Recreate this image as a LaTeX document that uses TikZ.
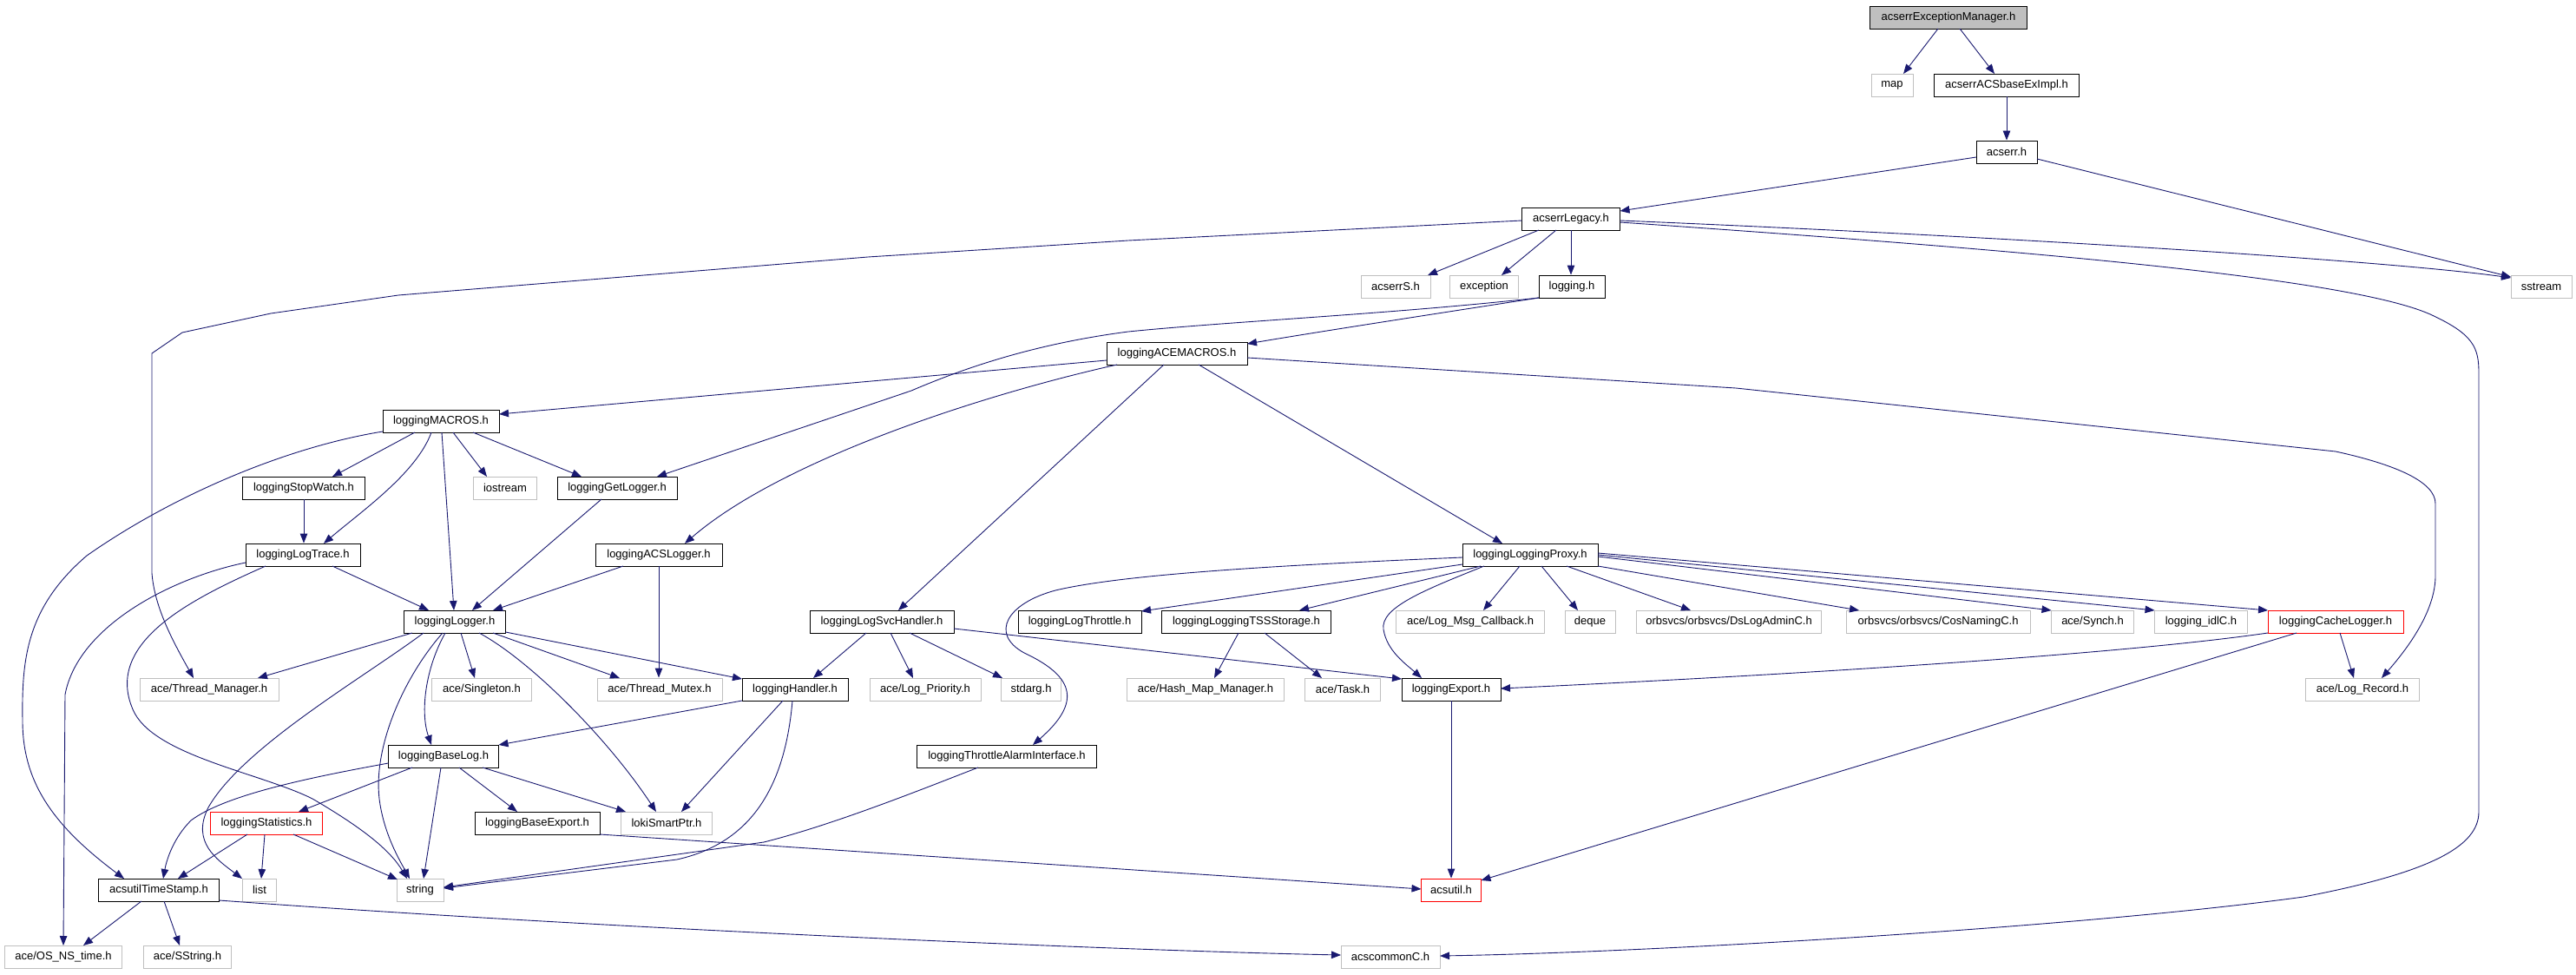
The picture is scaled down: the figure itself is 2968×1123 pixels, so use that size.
\documentclass[tikz,border=0pt]{standalone}
\usepackage{fontspec}
\setmainfont{Liberation Sans}
\usetikzlibrary{arrows.meta,calc}
\definecolor{edgecol}{RGB}{25,25,112}
\definecolor{greyl}{RGB}{191,191,191}
\begin{document}
\begin{tikzpicture}[x=1pt,y=-1pt,
  box/.style={draw=black,line width=0.9pt,minimum height=26pt,inner sep=0pt,font=\fontsize{13}{15}\selectfont,fill=white},
  doc/.style={box},
  ext/.style={box,draw=greyl},
  trunc/.style={box,draw=red},
  rootbox/.style={box,fill=greyl},
  edge/.style={draw=edgecol,line width=0.9pt,-{Triangle[length=11pt,width=8.5pt]}},
]
\fill[white] (0,0) rectangle (2968,1123);
\useasboundingbox (0,0) rectangle (2968,1123);

\node[rootbox,minimum width=181pt] (root) at (2245,20) {acserrExceptionManager.h};
\node[ext,minimum width=48pt] (map) at (2180,98) {map};
\node[doc,minimum width=167pt] (baseEx) at (2312,98) {acserrACSbaseExImpl.h};
\node[doc,minimum width=70pt] (acserr) at (2312,175) {acserr.h};
\node[doc,minimum width=113pt] (legacy) at (1810,252) {acserrLegacy.h};
\node[ext,minimum width=80pt] (acserrS) at (1608,330) {acserrS.h};
\node[ext,minimum width=79pt] (exception) at (1710,330) {exception};
\node[doc,minimum width=76pt] (logging) at (1811,330) {logging.h};
\node[ext,minimum width=70pt] (sstream) at (2928,330) {sstream};
\node[doc,minimum width=162pt] (acemacros) at (1356,407) {loggingACEMACROS.h};
\node[doc,minimum width=134pt] (macros) at (508,485) {loggingMACROS.h};
\node[doc,minimum width=141pt] (stopwatch) at (350,562) {loggingStopWatch.h};
\node[ext,minimum width=73pt] (iostream) at (582,562) {iostream};
\node[doc,minimum width=138pt] (getlogger) at (711,562) {loggingGetLogger.h};
\node[doc,minimum width=132pt] (logtrace) at (349,639) {loggingLogTrace.h};
\node[doc,minimum width=146pt] (acslogger) at (759,639) {loggingACSLogger.h};
\node[doc,minimum width=156pt] (proxy) at (1763,639) {loggingLoggingProxy.h};
\node[doc,minimum width=117pt] (logger) at (524,716) {loggingLogger.h};
\node[doc,minimum width=166pt] (svchandler) at (1016,716) {loggingLogSvcHandler.h};
\node[doc,minimum width=142pt] (throttle) at (1244,716) {loggingLogThrottle.h};
\node[doc,minimum width=195pt] (tss) at (1436,716) {loggingLoggingTSSStorage.h};
\node[ext,minimum width=171pt] (logmsgcb) at (1694,716) {ace/Log\_Msg\_Callback.h};
\node[ext,minimum width=58pt] (deque) at (1832,716) {deque};
\node[ext,minimum width=213pt] (dslog) at (1992,716) {orbsvcs/orbsvcs/DsLogAdminC.h};
\node[ext,minimum width=212pt] (cosnaming) at (2233,716) {orbsvcs/orbsvcs/CosNamingC.h};
\node[ext,minimum width=95pt] (synch) at (2411,716) {ace/Synch.h};
\node[ext,minimum width=107pt] (idlc) at (2536,716) {logging\_idlC.h};
\node[trunc,minimum width=156pt] (cache) at (2691,716) {loggingCacheLogger.h};
\node[ext,minimum width=160pt] (threadmgr) at (241,794) {ace/Thread\_Manager.h};
\node[ext,minimum width=115pt] (singleton) at (555,794) {ace/Singleton.h};
\node[ext,minimum width=144pt] (mutex) at (760,794) {ace/Thread\_Mutex.h};
\node[doc,minimum width=122pt] (handler) at (916,794) {loggingHandler.h};
\node[ext,minimum width=128pt] (logprio) at (1066,794) {ace/Log\_Priority.h};
\node[ext,minimum width=69pt] (stdarg) at (1188,794) {stdarg.h};
\node[ext,minimum width=181pt] (hashmap) at (1389,794) {ace/Hash\_Map\_Manager.h};
\node[ext,minimum width=87pt] (task) at (1547,794) {ace/Task.h};
\node[doc,minimum width=114pt] (export) at (1672,794) {loggingExport.h};
\node[ext,minimum width=131pt] (logrecord) at (2722,794) {ace/Log\_Record.h};
\node[doc,minimum width=127pt] (baselog) at (511,871) {loggingBaseLog.h};
\node[doc,minimum width=207pt] (throttlealarm) at (1160,871) {loggingThrottleAlarmInterface.h};
\node[trunc,minimum width=129pt] (statistics) at (307,948) {loggingStatistics.h};
\node[doc,minimum width=144pt] (baseexport) at (619,948) {loggingBaseExport.h};
\node[ext,minimum width=105pt] (loki) at (768,948) {lokiSmartPtr.h};
\node[doc,minimum width=139pt] (timestamp) at (183,1025) {acsutilTimeStamp.h};
\node[ext,minimum width=39pt] (list) at (299,1025) {list};
\node[ext,minimum width=54pt] (string) at (484,1025) {string};
\node[trunc,minimum width=69pt] (acsutil) at (1672,1025) {acsutil.h};
\node[ext,minimum width=135pt] (osnstime) at (73,1102) {ace/OS\_NS\_time.h};
\node[ext,minimum width=101pt] (sstring) at (216,1102) {ace/SString.h};
\node[ext,minimum width=114pt] (acscommonc) at (1602,1102) {acscommonC.h};

% top
\draw[edge] ($(root)+(-12,13)$) -- ($(map)+(13,-13)$);
\draw[edge] ($(root)+(13,13)$) -- ($(baseEx)+(-14,-13)$);
\draw[edge] (baseEx.south) -- (acserr.north);
\draw[edge] ($(acserr)+(-35,6)$) -- ($(legacy)+(56.5,-9)$);
\draw[edge] ($(acserr)+(35,8)$) -- ($(sstream)+(-35,-11)$);
\draw[edge] ($(legacy)+(56.5,2)$) .. controls (2300,272) and (2750,300) .. ($(sstream)+(-35,-10)$);
\draw[edge] ($(legacy)+(56.5,4)$) .. controls (2300,286) and (2700,318) .. (2800,362) .. controls (2850,385) and (2856,400) .. (2856,430) -- (2856,935) .. controls (2856,975) and (2800,1005) .. (2654,1033) .. controls (2400,1068) and (1900,1097) .. ($(acscommonc)+(57,-1)$);
\draw[edge] ($(legacy)+(-56.5,2)$) -- (1300,277) -- (1000,296) -- (459,340) -- (312,361) -- (210,383) -- (175,407) -- (175,660) .. controls (178,700) and (200,740) .. ($(threadmgr)+(-18,-13)$);
\draw[edge] ($(legacy)+(-37,13)$) -- ($(acserrS)+(37,-13)$);
\draw[edge] ($(legacy)+(-17,13)$) -- ($(exception)+(20,-13)$);
\draw[edge] (legacy.south) -- (legacy.south |- logging.north);

% logging.h
\draw[edge] ($(logging)+(-38,13)$) .. controls (1650,362) and (1520,382) .. ($(acemacros)+(81,-11)$);
\draw[edge] ($(logging)+(-38,13)$) .. controls (1600,362) and (1420,370) .. (1300,382) .. controls (1200,395) and (1120,420) .. (1050,450) -- ($(getlogger)+(46,-13)$);

% loggingACEMACROS.h
\draw[edge] ($(acemacros)+(-81,8)$) -- ($(macros)+(67,-8)$);
\draw[edge] ($(acemacros)+(-69,13)$) .. controls (1130,455) and (900,530) .. ($(acslogger)+(30,-13)$);
\draw[edge] ($(acemacros)+(-15,13)$) -- ($(svchandler)+(19,-13)$);
\draw[edge] ($(acemacros)+(25,13)$) -- ($(proxy)+(-32,-13)$);
\draw[edge] ($(acemacros)+(81,5)$) -- (2000,447) -- (2691,520) .. controls (2760,535) and (2806,555) .. (2806,580) -- (2806,663) .. controls (2806,700) and (2780,740) .. ($(logrecord)+(22,-13)$);

% loggingMACROS.h
\draw[edge] ($(macros)+(-30,13)$) -- ($(stopwatch)+(33,-13)$);
\draw[edge] ($(macros)+(-11,13)$) .. controls (480,545) and (415,590) .. ($(logtrace)+(24,-13)$);
\draw[edge] ($(macros)+(14,13)$) -- ($(iostream)+(-21,-13)$);
\draw[edge] ($(macros)+(37,13)$) -- ($(getlogger)+(-41,-13)$);
\draw[edge] ($(macros)+(1,13)$) -- ($(logger)+(-1,-13)$);
\draw[edge] ($(macros)+(-67,12)$) .. controls (330,515) and (200,570) .. (100,640) .. controls (30,700) and (25,760) .. (26,830) .. controls (26,900) and (60,950) .. ($(timestamp)+(-40,-13)$);

% stopwatch, logtrace
\draw[edge] (stopwatch.south) -- (stopwatch.south |- logtrace.north);
\draw[edge] ($(logtrace)+(34,13)$) -- ($(logger)+(-30,-13)$);
\draw[edge] ($(logtrace)+(-66,9)$) .. controls (200,665) and (90,720) .. (75,800) -- ($(osnstime)+(0,-13)$);
\draw[edge] ($(logtrace)+(-43,13)$) .. controls (220,690) and (120,740) .. (153,817) .. controls (175,870) and (300,890) .. (360,920) .. controls (420,955) and (450,980) .. ($(string)+(-15,-13)$);

% getlogger, acslogger
\draw[edge] ($(getlogger)+(-18,13)$) -- ($(logger)+(20,-13)$);
\draw[edge] ($(acslogger)+(-41,13)$) -- ($(logger)+(44,-13)$);
\draw[edge] (acslogger.south) -- (acslogger.south |- mutex.north);

% loggingLogger.h
\draw[edge] ($(logger)+(-49,13)$) -- ($(threadmgr)+(56,-13)$);
\draw[edge] ($(logger)+(-36,13)$) .. controls (420,780) and (280,860) .. (240,930) .. controls (220,970) and (250,990) .. ($(list)+(-20,-13)$);
\draw[edge] ($(logger)+(-14,13)$) .. controls (465,780) and (430,860) .. (437,920) .. controls (442,960) and (460,990) .. ($(string)+(-12,-13)$);
\draw[edge] ($(logger)+(-11,13)$) .. controls (490,770) and (484,820) .. ($(baselog)+(-14,-13)$);
\draw[edge] ($(logger)+(7,13)$) -- ($(singleton)+(-8,-13)$);
\draw[edge] ($(logger)+(28,13)$) .. controls (610,760) and (700,850) .. ($(loki)+(-12,-13)$);
\draw[edge] ($(logger)+(44,13)$) -- ($(mutex)+(-46,-13)$);
\draw[edge] ($(logger)+(58.5,12)$) -- ($(handler)+(-61,-12)$);

% loggingHandler.h
\draw[edge] ($(handler)+(-61,13)$) -- ($(baselog)+(63.5,-13)$);
\draw[edge] ($(handler)+(-14,13)$) -- ($(loki)+(17,-13)$);
\draw[edge] ($(handler)+(-3,13)$) .. controls (905,900) and (870,970) .. (780,990) -- ($(string)+(27,-2)$);

% loggingLogSvcHandler.h
\draw[edge] ($(svchandler)+(-18,13)$) -- ($(handler)+(21,-13)$);
\draw[edge] ($(svchandler)+(10,13)$) -- ($(logprio)+(-14,-13)$);
\draw[edge] ($(svchandler)+(32,13)$) -- ($(stdarg)+(-33,-13)$);
\draw[edge] ($(svchandler)+(83,8)$) -- ($(export)+(-57,-12)$);

% loggingBaseLog.h
\draw[edge] ($(baselog)+(-63.5,8)$) .. controls (360,895) and (260,915) .. (220,945) .. controls (200,965) and (192,990) .. ($(timestamp)+(5,-13)$);
\draw[edge] ($(baselog)+(-36,13)$) -- ($(statistics)+(37,-13)$);
\draw[edge] ($(baselog)+(-3,13)$) -- ($(string)+(4,-13)$);
\draw[edge] ($(baselog)+(18,13)$) -- ($(baseexport)+(-23,-13)$);
\draw[edge] ($(baselog)+(45,13)$) -- ($(loki)+(-47,-13)$);

% loggingStatistics.h
\draw[edge] ($(statistics)+(-22,13)$) -- ($(timestamp)+(22,-13)$);
\draw[edge] ($(statistics)+(-2,13)$) -- ($(list)+(2,-13)$);
\draw[edge] ($(statistics)+(31,13)$) -- ($(string)+(-26,-12)$);

% others
\draw[edge] ($(baseexport)+(72,13)$) -- ($(acsutil)+(-34.5,-1)$);
\draw[edge] ($(throttlealarm)+(-33,13)$) .. controls (1060,910) and (960,950) .. (880,970) -- ($(string)+(27,-3)$);
\draw[edge] ($(timestamp)+(-20,13)$) -- ($(osnstime)+(23,-13)$);
\draw[edge] ($(timestamp)+(6,13)$) -- ($(sstring)+(-9,-13)$);
\draw[edge] ($(timestamp)+(69.5,12)$) .. controls (700,1070) and (1300,1095) .. ($(acscommonc)+(-57,-2)$);
\draw[edge] (export.south) -- (acsutil.north);

% loggingLoggingProxy.h
\draw[edge] ($(proxy)+(-78,3)$) .. controls (1500,650) and (1300,660) .. (1216,680) .. controls (1160,695) and (1140,730) .. (1180,752) .. controls (1240,780) and (1245,810) .. ($(throttlealarm)+(30,-13)$);
\draw[edge] ($(proxy)+(-78,11)$) -- ($(throttle)+(71,-12)$);
\draw[edge] ($(proxy)+(-57,13)$) -- ($(tss)+(61,-13)$);
\draw[edge] ($(proxy)+(-53,13)$) .. controls (1640,680) and (1590,700) .. (1594,725) .. controls (1598,750) and (1620,765) .. ($(export)+(-34,-13)$);
\draw[edge] ($(proxy)+(-12,13)$) -- ($(logmsgcb)+(15,-13)$);
\draw[edge] ($(proxy)+(13,13)$) -- ($(deque)+(-14,-13)$);
\draw[edge] ($(proxy)+(42,13)$) -- ($(dslog)+(-44,-13)$);
\draw[edge] ($(proxy)+(78,13)$) -- ($(cosnaming)+(-91,-13)$);
\draw[edge] ($(proxy)+(78,2)$) -- ($(synch)+(-47.5,-13)$);
\draw[edge] ($(proxy)+(78,0)$) -- ($(idlc)+(-53.5,-13)$);
\draw[edge] ($(proxy)+(78,-2)$) -- ($(cache)+(-78,-13)$);

% TSS storage
\draw[edge] ($(tss)+(-9,13)$) -- ($(hashmap)+(10,-13)$);
\draw[edge] ($(tss)+(21,13)$) -- ($(task)+(-24,-13)$);

% loggingCacheLogger.h
\draw[edge] ($(cache)+(-78,13)$) .. controls (2400,760) and (1900,785) .. ($(export)+(57,-1)$);
\draw[edge] ($(cache)+(-45,13)$) -- ($(acsutil)+(34.5,-11)$);
\draw[edge] ($(cache)+(5,13)$) -- ($(logrecord)+(-10,-13)$);
\end{tikzpicture}
\end{document}
